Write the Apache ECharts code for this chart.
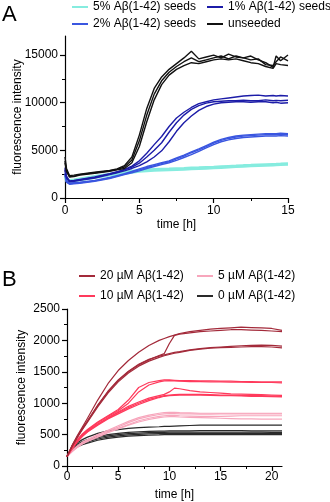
<!DOCTYPE html>
<html>
<head>
<meta charset="utf-8">
<script src="https://cdn.jsdelivr.net/npm/echarts@6/dist/echarts.min.js"></script>
<style>
  html, body { margin: 0; padding: 0; background: #fff; }
  #chart { width: 330px; height: 502px; }
</style>
</head>
<body>
<div id="chart"></div>
<script>
// panel A: time [h] and ThT fluorescence, three replicates per condition
var timeA = [0, 0.1, 0.3, 0.6, 1, 2, 3, 3.5, 4, 4.5, 5, 5.5, 6, 6.5, 7, 7.5, 8, 8.5, 9, 9.5, 10, 10.5, 11, 11.5, 12, 12.5, 13, 13.5, 14, 14.2, 14.5, 15];

var seeds5 = [
  [2300, 1950, 1900, 1950, 2050, 2300, 2550, 2650, 2750, 2850, 2950, 3000, 3050, 3080, 3100, 3130, 3160, 3200, 3220, 3250, 3280, 3320, 3360, 3400, 3450, 3480, 3520, 3550, 3580, 3590, 3610, 3650],
  [2200, 1850, 1800, 1850, 1950, 2200, 2450, 2550, 2650, 2750, 2850, 2900, 2950, 2980, 3000, 3030, 3060, 3100, 3130, 3160, 3200, 3240, 3280, 3320, 3370, 3400, 3440, 3470, 3500, 3510, 3530, 3560],
  [2100, 1750, 1700, 1750, 1850, 2100, 2350, 2450, 2550, 2650, 2750, 2800, 2850, 2880, 2900, 2940, 2970, 3010, 3050, 3080, 3120, 3160, 3200, 3240, 3290, 3320, 3360, 3390, 3420, 3430, 3450, 3480]
];
var seeds2 = [
  [2600, 1800, 1550, 1600, 1650, 1850, 2150, 2350, 2550, 2800, 3050, 3300, 3500, 3700, 3900, 4200, 4500, 4850, 5150, 5500, 5850, 6150, 6350, 6500, 6600, 6650, 6700, 6750, 6750, 6750, 6800, 6750],
  [2500, 1700, 1500, 1550, 1600, 1800, 2100, 2300, 2500, 2750, 2950, 3200, 3400, 3600, 3800, 4100, 4400, 4750, 5050, 5400, 5750, 6050, 6250, 6400, 6500, 6550, 6600, 6650, 6650, 6650, 6700, 6650],
  [2400, 1650, 1450, 1500, 1550, 1750, 2050, 2250, 2450, 2650, 2850, 3100, 3300, 3500, 3700, 3950, 4250, 4550, 4900, 5250, 5600, 5900, 6100, 6250, 6350, 6400, 6450, 6500, 6500, 6500, 6550, 6500]
];
var seeds1 = [
  [3200, 2300, 1800, 1850, 1950, 2200, 2550, 2750, 3000, 3350, 3900, 4700, 5600, 6450, 7500, 8400, 9000, 9500, 9900, 10100, 10300, 10400, 10500, 10600, 10700, 10750, 10800, 10700, 10750, 10700, 10750, 10700],
  [3000, 2200, 1750, 1800, 1900, 2150, 2500, 2700, 2950, 3250, 3650, 4300, 5000, 5800, 6900, 7900, 8700, 9300, 9700, 9950, 10100, 10150, 10200, 10200, 10250, 10200, 10200, 10300, 10200, 10250, 10200, 10250],
  [2900, 2100, 1700, 1750, 1850, 2100, 2450, 2650, 2850, 3100, 3400, 3800, 4300, 4950, 5900, 7000, 7900, 8600, 9200, 9600, 9850, 10000, 10050, 10100, 10100, 10050, 10100, 10100, 10000, 10050, 9950, 10000]
];
var unseeded = [
  [4300, 3100, 2350, 2400, 2500, 2700, 2900, 3050, 3400, 4300, 6600, 9400, 11500, 12700, 13500, 14100, 14700, 15400, 14600, 14800, 15000, 14700, 15100, 14800, 14700, 14900, 14500, 14200, 13700, 14900, 14400, 15000],
  [3900, 2900, 2250, 2300, 2450, 2650, 2850, 3000, 3250, 4000, 6000, 8700, 10900, 12300, 13200, 13800, 14300, 14700, 14300, 14500, 14700, 14900, 14600, 14900, 14700, 14500, 14600, 14000, 13900, 14300, 14800, 14400],
  [3700, 2800, 2200, 2250, 2400, 2600, 2800, 2950, 3100, 3700, 5400, 8000, 10300, 11900, 12900, 13500, 13900, 14200, 14100, 14300, 14500, 14600, 14500, 14600, 14400, 14200, 14100, 13800, 13600, 14100, 14000, 13900]
];

// panel B: concentration series
var timeB = [0, 0.5, 1, 1.5, 2, 3, 4, 5, 6, 7, 8, 9, 9.5, 10, 10.5, 11, 12, 13, 14, 15, 16, 17, 18, 19, 20, 21];

var conc0 = [
  [150, 300, 370, 420, 460, 520, 560, 580, 600, 610, 620, 625, 630, 630, 635, 640, 645, 650, 650, 650, 650, 650, 650, 650, 650, 650],
  [150, 280, 350, 390, 420, 470, 500, 520, 535, 545, 550, 555, 555, 560, 560, 560, 560, 565, 565, 565, 565, 565, 560, 560, 560, 560],
  [150, 270, 330, 370, 400, 450, 480, 500, 515, 525, 530, 535, 535, 540, 540, 540, 540, 540, 540, 540, 540, 540, 540, 540, 535, 535],
  [150, 260, 320, 355, 385, 430, 460, 480, 495, 505, 510, 515, 515, 520, 520, 520, 520, 520, 520, 520, 520, 520, 520, 520, 515, 515],
  [150, 250, 305, 340, 365, 410, 440, 460, 475, 485, 490, 495, 500, 500, 500, 500, 500, 500, 500, 500, 500, 500, 500, 500, 500, 500]
];
var conc5 = [
  [150, 250, 320, 380, 420, 500, 570, 640, 710, 770, 810, 840, 850, 855, 855, 850, 845, 840, 840, 840, 840, 840, 840, 840, 840, 840],
  [150, 240, 310, 370, 410, 490, 560, 620, 690, 750, 790, 820, 830, 835, 835, 830, 830, 825, 825, 830, 830, 830, 830, 830, 830, 830],
  [150, 230, 300, 355, 395, 470, 540, 600, 660, 720, 760, 790, 800, 805, 805, 800, 795, 790, 790, 790, 795, 800, 800, 800, 800, 800],
  [150, 230, 295, 350, 390, 460, 530, 590, 650, 700, 740, 770, 780, 785, 785, 780, 775, 770, 765, 760, 755, 750, 750, 745, 745, 745]
];
var conc10 = [
  [150, 300, 420, 510, 580, 700, 800, 900, 1050, 1250, 1330, 1360, 1370, 1370, 1365, 1360, 1360, 1355, 1355, 1350, 1350, 1345, 1345, 1340, 1340, 1340],
  [150, 290, 410, 500, 570, 690, 790, 880, 1000, 1180, 1290, 1340, 1355, 1360, 1355, 1350, 1345, 1345, 1340, 1340, 1335, 1335, 1330, 1330, 1330, 1325],
  [150, 290, 400, 490, 560, 670, 770, 860, 950, 1020, 1080, 1120, 1140, 1180, 1240, 1230, 1200, 1180, 1170, 1160, 1150, 1145, 1140, 1135, 1130, 1125],
  [150, 280, 390, 480, 550, 660, 760, 850, 930, 1000, 1060, 1100, 1120, 1130, 1135, 1140, 1140, 1140, 1135, 1130, 1130, 1125, 1120, 1120, 1115, 1110],
  [150, 270, 380, 470, 540, 650, 750, 830, 910, 980, 1040, 1090, 1110, 1120, 1125, 1130, 1130, 1130, 1125, 1120, 1120, 1115, 1110, 1110, 1105, 1100]
];
var conc20 = [
  [150, 330, 480, 620, 760, 1050, 1310, 1520, 1680, 1810, 1920, 2000, 2030, 2060, 2085, 2110, 2140, 2160, 2180, 2190, 2200, 2210, 2205, 2200, 2190, 2160],
  [150, 320, 460, 590, 710, 960, 1180, 1360, 1500, 1610, 1690, 1760, 1790, 1950, 2080, 2100, 2120, 2140, 2150, 2160, 2170, 2170, 2165, 2160, 2150, 2140],
  [150, 320, 470, 600, 720, 970, 1190, 1370, 1510, 1620, 1700, 1750, 1770, 1790, 1810, 1820, 1850, 1870, 1885, 1895, 1905, 1915, 1920, 1925, 1920, 1910],
  [150, 310, 450, 580, 700, 940, 1160, 1340, 1480, 1590, 1670, 1730, 1755, 1775, 1795, 1810, 1840, 1860, 1875, 1885, 1890, 1895, 1900, 1900, 1895, 1880]
];

var namesA = ["5% Aβ(1-42) seeds", "2% Aβ(1-42) seeds", "1% Aβ(1-42) seeds", "unseeded"];
var colorsA = ["#86ecdf", "#3a56e0", "#1c1ca8", "#111111"];
var namesB = ["0 µM Aβ(1-42)", "5 µM Aβ(1-42)", "10 µM Aβ(1-42)", "20 µM Aβ(1-42)"];
var colorsB = ["#2a2a2a", "#f7a6bc", "#ff3a5c", "#a32a3a"];

var font = "Liberation Sans, Arial, sans-serif";

function lines(name, color, xs, reps, grid, width) {
  var out = [];
  for (var r = 0; r < reps.length; r++) {
    var data = [];
    for (var i = 0; i < xs.length; i++) {
      data.push([xs[i], reps[r][i]]);
    }
    out.push({
      name: name,
      type: "line",
      xAxisIndex: grid,
      yAxisIndex: grid,
      symbol: "none",
      color: color,
      lineStyle: { color: color, width: width },
      data: data
    });
  }
  return out;
}

var series = []
  .concat(lines(namesA[0], colorsA[0], timeA, seeds5, 0, 2))
  .concat(lines(namesA[1], colorsA[1], timeA, seeds2, 0, 1.4))
  .concat(lines(namesA[2], colorsA[2], timeA, seeds1, 0, 1.4))
  .concat(lines(namesA[3], colorsA[3], timeA, unseeded, 0, 1.4))
  .concat(lines(namesB[0], colorsB[0], timeB, conc0, 1, 1.2))
  .concat(lines(namesB[1], colorsB[1], timeB, conc5, 1, 1.2))
  .concat(lines(namesB[2], colorsB[2], timeB, conc10, 1, 1.2))
  .concat(lines(namesB[3], colorsB[3], timeB, conc20, 1, 1.2));

function axis(extra) {
  var base = {
    type: "value",
    splitLine: { show: false },
    axisLine: { show: true, onZero: false, lineStyle: { color: "#000", width: 1.2 } },
    axisTick: { show: true, length: 5, lineStyle: { color: "#000", width: 1.2 } },
    minorTick: { show: true, splitNumber: 2, length: 3, lineStyle: { color: "#000", width: 1 } },
    axisLabel: {
      color: "#000", fontSize: 12, fontFamily: font,
      formatter: function (v) { return String(v); }
    },
    nameLocation: "middle",
    nameMoveOverlap: false,
    nameTextStyle: { color: "#000", fontSize: 12, fontFamily: font }
  };
  for (var k in extra) {
    if (typeof extra[k] === "object" && base[k] && !Array.isArray(extra[k])) {
      base[k] = Object.assign({}, base[k], extra[k]);
    } else {
      base[k] = extra[k];
    }
  }
  return base;
}

function legendItem(name, left, top) {
  return {
    data: [name],
    left: left,
    top: top,
    padding: 0,
    icon: "rect",
    itemWidth: 16,
    itemHeight: 2,
    selectedMode: false,
    textStyle: { color: "#000", fontSize: 12, fontFamily: font }
  };
}

var option = {
  animation: false,
  backgroundColor: "#fff",
  grid: [
    { left: 65, top: 36, width: 223, height: 162, containLabel: false, outerBoundsMode: "none" },
    { left: 67, top: 309, width: 215, height: 157, containLabel: false, outerBoundsMode: "none" }
  ],
  xAxis: [
    axis({ gridIndex: 0, min: 0, max: 15, interval: 5, name: "time [h]", nameGap: 21,
      axisLabel: { margin: 7 } }),
    axis({ gridIndex: 1, min: 0, max: 21, interval: 5, name: "time [h]", nameGap: 23,
      axisTick: { customValues: [0, 5, 10, 15, 20] },
      axisLabel: { margin: 5, customValues: [0, 5, 10, 15, 20] } })
  ],
  yAxis: [
    axis({ gridIndex: 0, min: 0, max: 17000, interval: 5000, name: "fluorescence intensity", nameGap: 41,
      axisTick: { customValues: [0, 5000, 10000, 15000] },
      axisLabel: { margin: 7, customValues: [0, 5000, 10000, 15000] } }),
    axis({ gridIndex: 1, min: 0, max: 2500, interval: 500, name: "fluorescence intensity", nameGap: 39,
      axisLabel: { margin: 7 } })
  ],
  legend: [
    legendItem(namesA[0], 72, 1),
    legendItem(namesA[2], 207, 1),
    legendItem(namesA[1], 72, 18),
    legendItem(namesA[3], 207, 18),
    legendItem(namesB[3], 79, 270),
    legendItem(namesB[1], 197, 270),
    legendItem(namesB[2], 79, 290),
    legendItem(namesB[0], 197, 290)
  ],
  graphic: [
    { type: "text", left: 2, top: 4, style: { text: "A", fontSize: 22, fontFamily: font, fill: "#000" } },
    { type: "text", left: 2, top: 269, style: { text: "B", fontSize: 22, fontFamily: font, fill: "#000" } }
  ],
  series: series
};

var myChart = echarts.init(document.getElementById("chart"));
myChart.setOption(option);
</script>
</body>
</html>
